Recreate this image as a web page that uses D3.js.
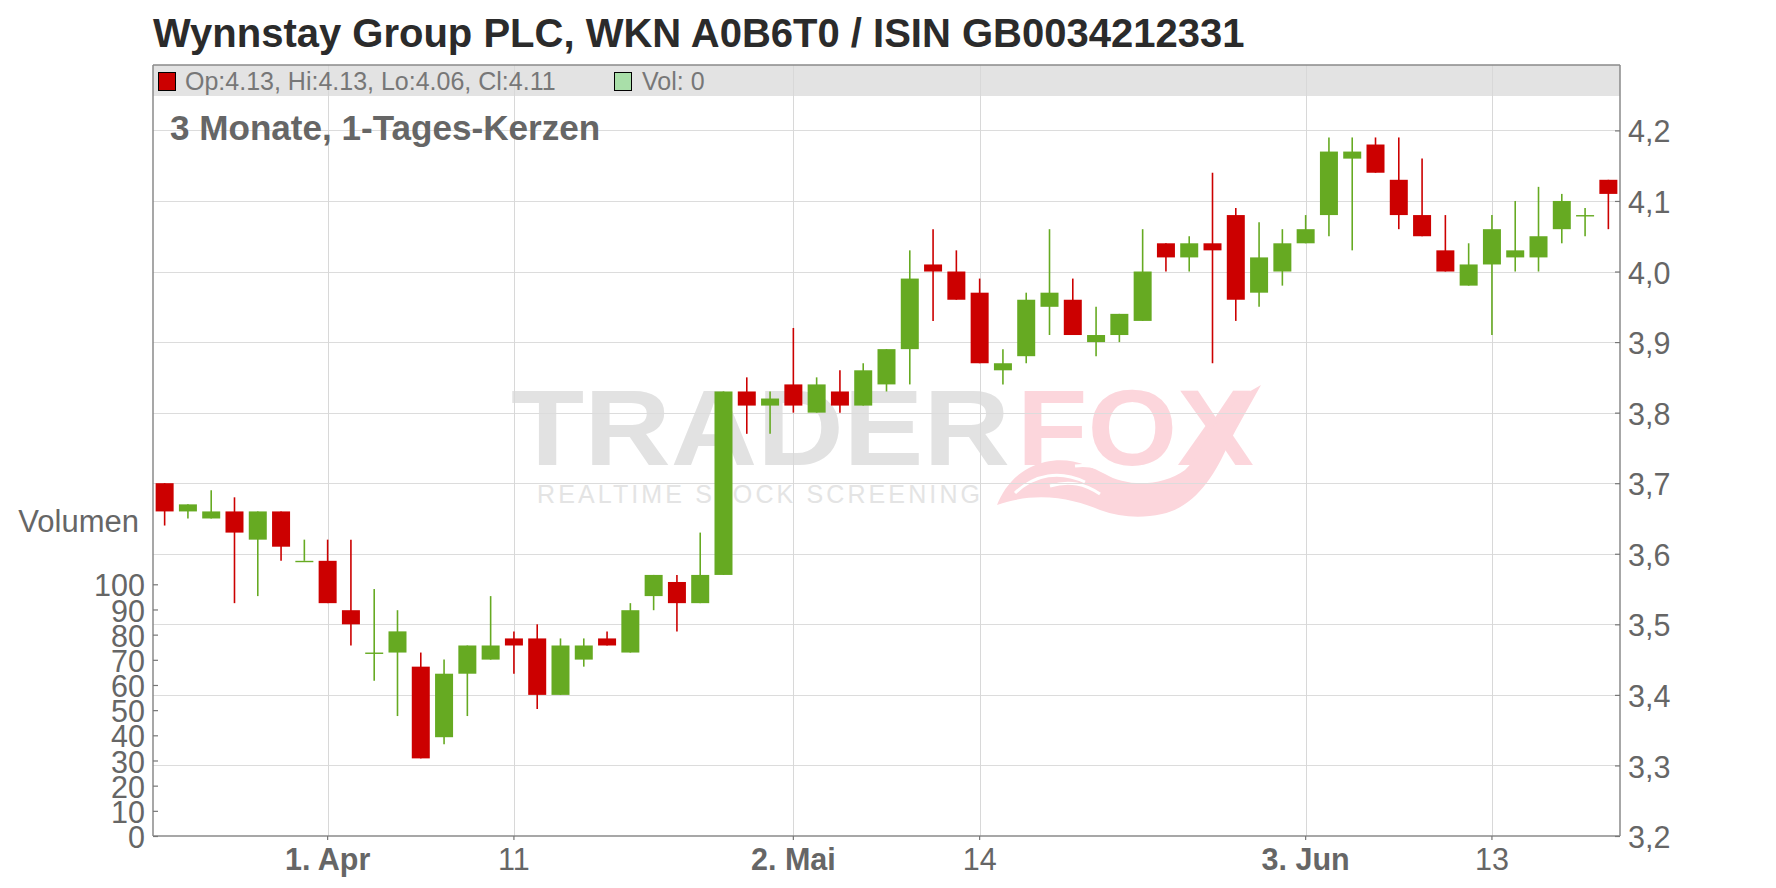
<!DOCTYPE html>
<html>
<head>
<meta charset="utf-8">
<script src="https://cdn.jsdelivr.net/npm/d3@7"></script>
<style>
html,body{margin:0;padding:0;background:#fff;}
svg{display:block;font-family:"Liberation Sans",Arial,Helvetica,sans-serif;}
</style>
</head>
<body>
<svg id="chart" width="1776" height="888"></svg>
<script>
// ---- data ----
const titleText = "Wynnstay Group PLC, WKN A0B6T0 / ISIN GB0034212331";
const subtitleText = "3 Monate, 1-Tages-Kerzen";
const openP  = [3.70,3.66,3.65,3.66,3.62,3.66,3.59,3.59,3.52,3.46,3.46,3.44,3.34,3.43,3.45,3.48,3.48,3.40,3.45,3.48,3.46,3.54,3.56,3.53,3.57,3.83,3.81,3.84,3.80,3.83,3.81,3.84,3.89,4.01,4.00,3.97,3.86,3.88,3.95,3.96,3.90,3.91,3.93,4.04,4.02,4.04,4.08,3.97,4.00,4.04,4.08,4.16,4.18,4.13,4.08,4.03,3.98,4.01,4.02,4.02,4.06,4.08,4.13];
const highP  = [3.70,3.67,3.69,3.68,3.66,3.66,3.62,3.62,3.62,3.55,3.52,3.46,3.45,3.47,3.54,3.49,3.50,3.48,3.48,3.49,3.53,3.57,3.57,3.63,3.83,3.85,3.83,3.92,3.85,3.86,3.87,3.89,4.03,4.06,4.03,3.99,3.89,3.97,4.06,3.99,3.95,3.94,4.06,4.04,4.05,4.14,4.09,4.07,4.06,4.08,4.19,4.19,4.19,4.19,4.16,4.08,4.04,4.08,4.10,4.12,4.11,4.09,4.13];
const lowP   = [3.64,3.65,3.65,3.53,3.54,3.59,3.59,3.53,3.47,3.42,3.37,3.31,3.33,3.37,3.45,3.43,3.38,3.40,3.44,3.47,3.46,3.52,3.49,3.53,3.57,3.77,3.77,3.80,3.80,3.80,3.81,3.83,3.84,3.93,3.96,3.87,3.84,3.87,3.91,3.91,3.88,3.90,3.93,4.00,4.00,3.87,3.93,3.95,3.98,4.04,4.05,4.03,4.14,4.06,4.05,4.00,3.98,3.91,4.00,4.00,4.04,4.05,4.06];
const closeP = [3.66,3.67,3.66,3.63,3.66,3.61,3.59,3.53,3.50,3.46,3.49,3.31,3.43,3.47,3.47,3.47,3.40,3.47,3.47,3.47,3.52,3.57,3.53,3.57,3.83,3.81,3.82,3.81,3.84,3.81,3.86,3.89,3.99,4.00,3.96,3.87,3.87,3.96,3.97,3.91,3.91,3.94,4.00,4.02,4.04,4.03,3.96,4.02,4.04,4.06,4.17,4.17,4.14,4.08,4.05,4.00,4.01,4.06,4.03,4.05,4.10,4.08,4.11];
const volume = [0,0,0,0,0,0,0,0,0,0,0,0,0,0,0,0,0,0,0,0,0,0,0,0,0,0,0,0,0,0,0,0,0,0,0,0,0,0,0,0,0,0,0,0,0,0,0,0,0,0,0,0,0,0,0,0,0,0,0,0,0,0,0];
const xTickIndex  = [7, 15, 27, 35, 49, 57];
const xTickLabels = ["1. Apr", "11", "2. Mai", "14", "3. Jun", "13"];
const xTickBold   = [true, false, true, false, true, false];
const priceTicks  = [3.2, 3.3, 3.4, 3.5, 3.6, 3.7, 3.8, 3.9, 4.0, 4.1, 4.2];
const volumeTicks = [0, 10, 20, 30, 40, 50, 60, 70, 80, 90, 100];

// ---- layout ----
const L = 153, R = 1620, T = 65, B = 836, HB = 96;
const n = openP.length;
const candles = d3.range(n).map(i => ({i, o: openP[i], h: highP[i], l: lowP[i], c: closeP[i], v: volume[i]}));

const svg = d3.select("#chart");
const x = d3.scaleBand().domain(d3.range(n)).range([L, R]).paddingInner(0.227).paddingOuter(0.113);
const y = d3.scaleLinear().domain([3.2, 4.2]).range([B, 130.4]);
const yv = d3.scaleLinear().domain([0, 100]).range([B, 584.3]);

const RED = "#cc0000", GREEN = "#66aa22";
const AX = 30.5;

// header band
svg.append("rect").attr("x", L).attr("y", T).attr("width", R - L).attr("height", HB - T).attr("fill", "#e3e3e3");

// watermark
const wm = svg.append("g").attr("class", "watermark");
wm.append("text").attr("x", 511).attr("y", 465).attr("font-size", 107).attr("font-weight", "bold")
  .attr("textLength", 499).attr("lengthAdjust", "spacingAndGlyphs").attr("fill", "#e2e2e2").text("TRADER");
wm.append("text").attr("x", 1017).attr("y", 465).attr("font-size", 107).attr("font-weight", "bold")
  .attr("textLength", 237).attr("lengthAdjust", "spacingAndGlyphs").attr("fill", "#fcd6dc").text("FOX");
wm.append("text").attr("x", 537).attr("y", 503).attr("font-size", 25)
  .attr("textLength", 443).attr("lengthAdjust", "spacing").attr("fill", "#e4e4e4").text("REALTIME STOCK SCREENING");
wm.append("path").attr("fill", "#fcd6dc")
  .attr("d", "M997,505 C1005,485 1020,468 1045,462 C1070,456 1090,466 1105,474 C1125,486 1160,488 1185,470 C1198,458 1204,442 1208,432 L1240,397 L1261,385 C1250,405 1238,425 1228,445 C1215,475 1195,507 1162,514 C1140,519 1120,517 1100,510 C1075,500 1040,490 997,505 Z");
wm.append("path").attr("fill", "none").attr("stroke", "#fff").attr("stroke-width", 3)
  .attr("d", "M1015,493 C1035,474 1060,470 1085,482 M1050,486 C1070,480 1085,484 1100,494 M1075,466 C1090,464 1100,467 1110,474");

// grid
svg.append("g").selectAll("line").data(priceTicks.filter(d => d > 3.2)).join("line")
  .attr("x1", L).attr("x2", R).attr("y1", d => Math.round(y(d)) + 0.5).attr("y2", d => Math.round(y(d)) + 0.5)
  .attr("stroke", "#dcdcdc").attr("stroke-width", 1);
svg.append("g").selectAll("line").data(xTickIndex).join("line")
  .attr("x1", d => Math.round(x(d) + x.bandwidth() / 2) + 0.5).attr("x2", d => Math.round(x(d) + x.bandwidth() / 2) + 0.5)
  .attr("y1", T).attr("y2", B).attr("stroke", "#d8d8d8").attr("stroke-width", 1);

// volume bars (all zero in this period)
svg.append("g").selectAll("rect").data(candles).join("rect")
  .attr("x", d => x(d.i)).attr("width", x.bandwidth())
  .attr("y", d => yv(d.v)).attr("height", d => B - yv(d.v)).attr("fill", "#a9dfa9");

// candles
const cg = svg.append("g").selectAll("g").data(candles).join("g");
cg.append("line")
  .attr("x1", d => x(d.i) + x.bandwidth() / 2).attr("x2", d => x(d.i) + x.bandwidth() / 2)
  .attr("y1", d => y(d.h)).attr("y2", d => y(d.l))
  .attr("stroke", d => d.c >= d.o ? GREEN : RED).attr("stroke-width", 1.6);
cg.append("rect")
  .attr("x", d => x(d.i)).attr("width", x.bandwidth())
  .attr("y", d => y(Math.max(d.o, d.c)))
  .attr("height", d => Math.max(1.4, Math.abs(y(d.o) - y(d.c))))
  .attr("fill", d => d.c >= d.o ? GREEN : RED);

// frame lines
const frame = svg.append("g").attr("stroke", "#8a8a8a").attr("stroke-width", 1.5);
frame.append("line").attr("x1", L).attr("x2", R).attr("y1", T).attr("y2", T);
frame.append("line").attr("x1", L).attr("x2", L).attr("y1", T).attr("y2", B);
frame.append("line").attr("x1", R).attr("x2", R).attr("y1", T).attr("y2", B);
frame.append("line").attr("x1", L).attr("x2", R).attr("y1", B).attr("y2", B);

function styleAxis(g) {
  g.select(".domain").remove();
  g.selectAll(".tick line").attr("stroke", "#777").attr("stroke-width", 1.2);
  g.selectAll(".tick text").attr("fill", "#666").attr("font-family", "'Liberation Sans',Arial,sans-serif");
}

// price axis (right)
svg.append("g").attr("transform", `translate(${R},0)`)
  .call(d3.axisRight(y).tickValues(priceTicks).tickSize(-5).tickPadding(8)
    .tickFormat(d => d.toFixed(1).replace(".", ",")))
  .call(styleAxis)
  .call(g => g.selectAll(".tick text").attr("font-size", AX).attr("dy", "0.38em"));

// volume axis (left)
svg.append("g").attr("transform", `translate(${L},0)`)
  .call(d3.axisLeft(yv).tickValues(volumeTicks).tickSize(-5).tickPadding(8).tickFormat(d3.format("d")))
  .call(styleAxis)
  .call(g => g.selectAll(".tick text").attr("font-size", AX).attr("dy", "0.38em"));

// x axis
svg.append("g").attr("transform", `translate(0,${B})`)
  .call(d3.axisBottom(x).tickValues(xTickIndex).tickSize(4).tickPadding(8.5)
    .tickFormat((d, k) => xTickLabels[k]))
  .call(styleAxis)
  .call(g => g.selectAll(".tick text").attr("font-size", AX)
    .attr("font-weight", (d, k) => xTickBold[k] ? "bold" : "normal"));

// texts
svg.append("text").attr("x", 153).attr("y", 47).attr("font-size", 40).attr("font-weight", "bold")
  .attr("fill", "#2b2b2b").text(titleText);
svg.append("text").attr("x", 170).attr("y", 140).attr("font-size", 35.1).attr("font-weight", "bold")
  .attr("fill", "#666").text(subtitleText);
svg.append("text").attr("x", 139).attr("y", 532).attr("font-size", 31).attr("text-anchor", "end")
  .attr("fill", "#666").text("Volumen");

// legend in header band
const last = candles[n - 1];
svg.append("rect").attr("x", 158.5).attr("y", 72.5).attr("width", 17).attr("height", 18)
  .attr("fill", RED).attr("stroke", "#000").attr("stroke-width", 1);
svg.append("text").attr("x", 185).attr("y", 90).attr("font-size", 25).attr("fill", "#777")
  .text(`Op:${last.o.toFixed(2)}, Hi:${last.h.toFixed(2)}, Lo:${last.l.toFixed(2)}, Cl:${last.c.toFixed(2)}`);
svg.append("rect").attr("x", 614.5).attr("y", 72.5).attr("width", 17).attr("height", 18)
  .attr("fill", "#a9dfa9").attr("stroke", "#000").attr("stroke-width", 1);
svg.append("text").attr("x", 642).attr("y", 90).attr("font-size", 25).attr("fill", "#777")
  .text(`Vol: ${last.v}`);
</script>
</body>
</html>
